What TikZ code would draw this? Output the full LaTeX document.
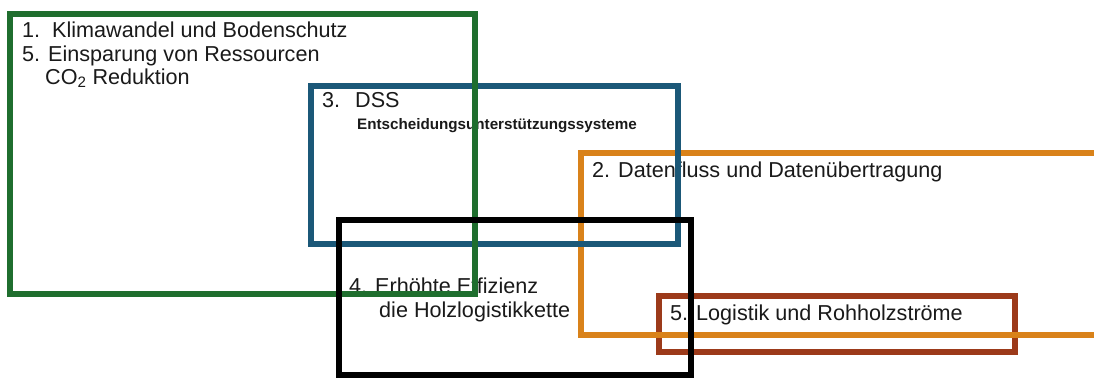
\documentclass[tikz,border=0pt]{standalone}
\usepackage{fontspec}
\setmainfont{Liberation Sans}
\definecolor{cgreen}{HTML}{1F6E2E}
\definecolor{cblue}{HTML}{1B5878}
\definecolor{corange}{HTML}{D9821A}
\definecolor{cbrown}{HTML}{9C3A1A}
\definecolor{ctext}{HTML}{1A1A1A}
\begin{document}
\begin{tikzpicture}[x=1pt,y=-1pt,
  frame/.style={line width=6pt},
  lbl/.style={anchor=base west,inner sep=0pt,text=ctext,font=\fontsize{21.6}{24}\selectfont},
  sublbl/.style={anchor=base west,inner sep=0pt,text=ctext,font=\fontsize{15.2}{18}\selectfont\bfseries}]
\useasboundingbox (0,0) rectangle (1094,378);
\clip (0,0) rectangle (1094,378);
\fill[white] (0,0) rectangle (1094,378);
% texts
\node[lbl] (t1) at (22,37) {1.\ \ Klimawandel und Bodenschutz};
\node[lbl] (t5a) at (22,61) {5. Einsparung von Ressourcen};
\node[lbl] (t5b) at (45,84) {CO\textsubscript{2} Reduktion};
\node[lbl] (t3) at (322,107) {3.};
\node[lbl] (t3b) at (355,107) {DSS};
\node[sublbl] (t3c) at (357,129) {Entscheidungsunterstützungssysteme};
\node[lbl] (t2) at (592,177) {2. Datenfluss und Datenübertragung};
\node[lbl] (t4) at (349,293) {4. Erhöhte Effizienz};
\node[lbl] (t4b) at (379,317) {die Holzlogistikkette};
\node[lbl] (t6) at (670,320) {5. Logistik und Rohholzströme};
% frames
\coordinate (gA) at (10,14);   \coordinate (gB) at (475,294);
\coordinate (bA) at (311,86);  \coordinate (bB) at (678,244);
\coordinate (oA) at (581,153); \coordinate (oB) at (1110,335);
\coordinate (kA) at (339,220); \coordinate (kB) at (691,375);
\coordinate (rA) at (659,296); \coordinate (rB) at (1015,352);
\draw[frame,cbrown] (rA) rectangle (rB);
\draw[frame,corange] (oA) rectangle (oB);
\draw[frame,cblue] (bA) rectangle (bB);
\draw[frame,cgreen] (gA) rectangle (gB);
\draw[frame,black] (kA) rectangle (kB);
\end{tikzpicture}
\end{document}
